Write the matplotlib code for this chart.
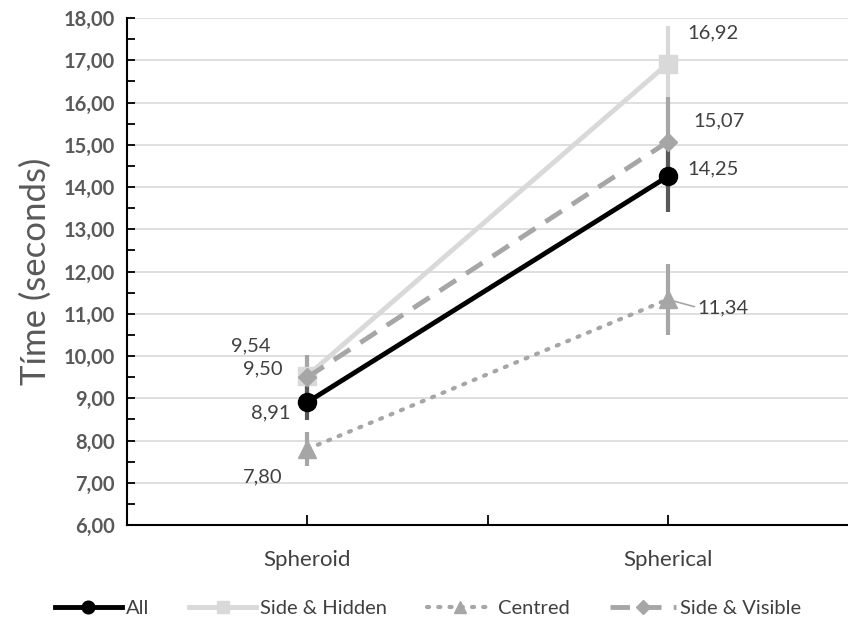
import matplotlib.pyplot as plt
from matplotlib.ticker import MultipleLocator, FuncFormatter

# data
categories = ["Spheroid", "Spherical"]
series_names = ["All", "Side & Hidden", "Centred", "Side & Visible"]
all_vals = [8.91, 14.25]
hidden_vals = [9.54, 16.92]
centred_vals = [7.80, 11.34]
visible_vals = [9.50, 15.07]
all_err = [0.42, 0.85]
hidden_err = [0.48, 0.90]
centred_err = [0.40, 0.85]
visible_err = [0.52, 1.06]
label_texts = {
    "All": ["8,91", "14,25"],
    "Side & Hidden": ["9,54", "16,92"],
    "Centred": ["7,80", "11,34"],
    "Side & Visible": ["9,50", "15,07"],
}

plt.rcParams['font.family'] = ['Lato', 'DejaVu Sans']
txt = '#404040'

fig = plt.figure(figsize=(8.48, 6.2), dpi=100)
ax = fig.add_axes([0.15, 0.153, 0.85, 0.818])

x = [0, 1]

# error bars first (behind lines)
ax.errorbar(x, hidden_vals, yerr=hidden_err, fmt='none', ecolor='#d9d9d9', elinewidth=3, zorder=2)
ax.errorbar(x, visible_vals, yerr=visible_err, fmt='none', ecolor='#a6a6a6', elinewidth=3, zorder=2)
ax.errorbar(x, all_vals, yerr=all_err, fmt='none', ecolor='#595959', elinewidth=3, zorder=2)
ax.errorbar(x, centred_vals, yerr=centred_err, fmt='none', ecolor='#a6a6a6', elinewidth=3, zorder=2)

l_hidden, = ax.plot(x, hidden_vals, color='#d9d9d9', lw=3.5, marker='s', ms=12.5,
                    label='Side & Hidden', zorder=3)
l_centred, = ax.plot(x, centred_vals, color='#a6a6a6', lw=3, ls=(0, (0.5, 2.2)),
                     dash_capstyle='round', marker='^', ms=13, label='Centred', zorder=3)
l_visible, = ax.plot(x, visible_vals, color='#a6a6a6', lw=3.5, ls=(0, (4, 2.5)),
                     marker='D', ms=9.5, label='Side & Visible', zorder=4)
l_all, = ax.plot(x, all_vals, color='black', lw=3.5, marker='o', ms=13, label='All', zorder=5)

# value labels (offsets in pixels)
offsets = {
    "All": [(-37, -11), (45, 8)],
    "Side & Hidden": [(-57, 30), (45, 31)],
    "Centred": [(-45, -28), (55, -8)],
    "Side & Visible": [(-45, 8), (51, 21)],
}
vals = {"All": all_vals, "Side & Hidden": hidden_vals, "Centred": centred_vals,
        "Side & Visible": visible_vals}
for name in series_names:
    for i in range(2):
        ap = None
        if name == "Centred" and i == 1:
            ap = dict(arrowstyle='-', color='#a6a6a6', lw=1.2, shrinkA=0, shrinkB=2,
                      relpos=(0, 0.5))
        ax.annotate(label_texts[name][i], (x[i], vals[name][i]),
                    xytext=offsets[name][i], textcoords='offset pixels',
                    ha='center', va='center', fontsize=14.5, color=txt,
                    arrowprops=ap, zorder=6)

ax.set_xlim(-0.5, 1.5)
ax.set_ylim(6, 18)
ax.set_xticks([0, 0.5, 1])
ax.set_xticklabels(["Spheroid", "", "Spherical"], fontsize=16, color=txt)
ax.yaxis.set_major_locator(MultipleLocator(1))
ax.yaxis.set_minor_locator(MultipleLocator(0.5))
ax.yaxis.set_major_formatter(FuncFormatter(lambda v, p: f"{v:.2f}".replace('.', ',')))
for lab in ax.get_yticklabels():
    lab.set_fontweight('bold')
ax.tick_params(axis='y', which='both', direction='in', length=6, width=1.3,
               labelsize=14.5, labelcolor='#595959', pad=9)
ax.tick_params(axis='x', direction='in', length=7, width=1.3, pad=18)
ax.grid(axis='y', which='major', color='#d9d9d9', lw=1.2, zorder=0)
ax.set_axisbelow(True)
ax.spines['top'].set_visible(False)
ax.spines['right'].set_visible(False)
ax.spines['left'].set_linewidth(1.5)
ax.spines['bottom'].set_linewidth(1.5)
ax.set_ylabel("Tíme (seconds)", fontsize=25, color='#595959', labelpad=8)

fig.legend(handles=[l_all, l_hidden, l_centred, l_visible], loc='lower center',
           bbox_to_anchor=(0.505, -0.024), ncol=4, frameon=False, fontsize=14.5,
           handlelength=3.3, columnspacing=2.0, handletextpad=0.2, markerscale=0.7,
           labelcolor=txt)

fig.savefig("out.png", dpi=100)
